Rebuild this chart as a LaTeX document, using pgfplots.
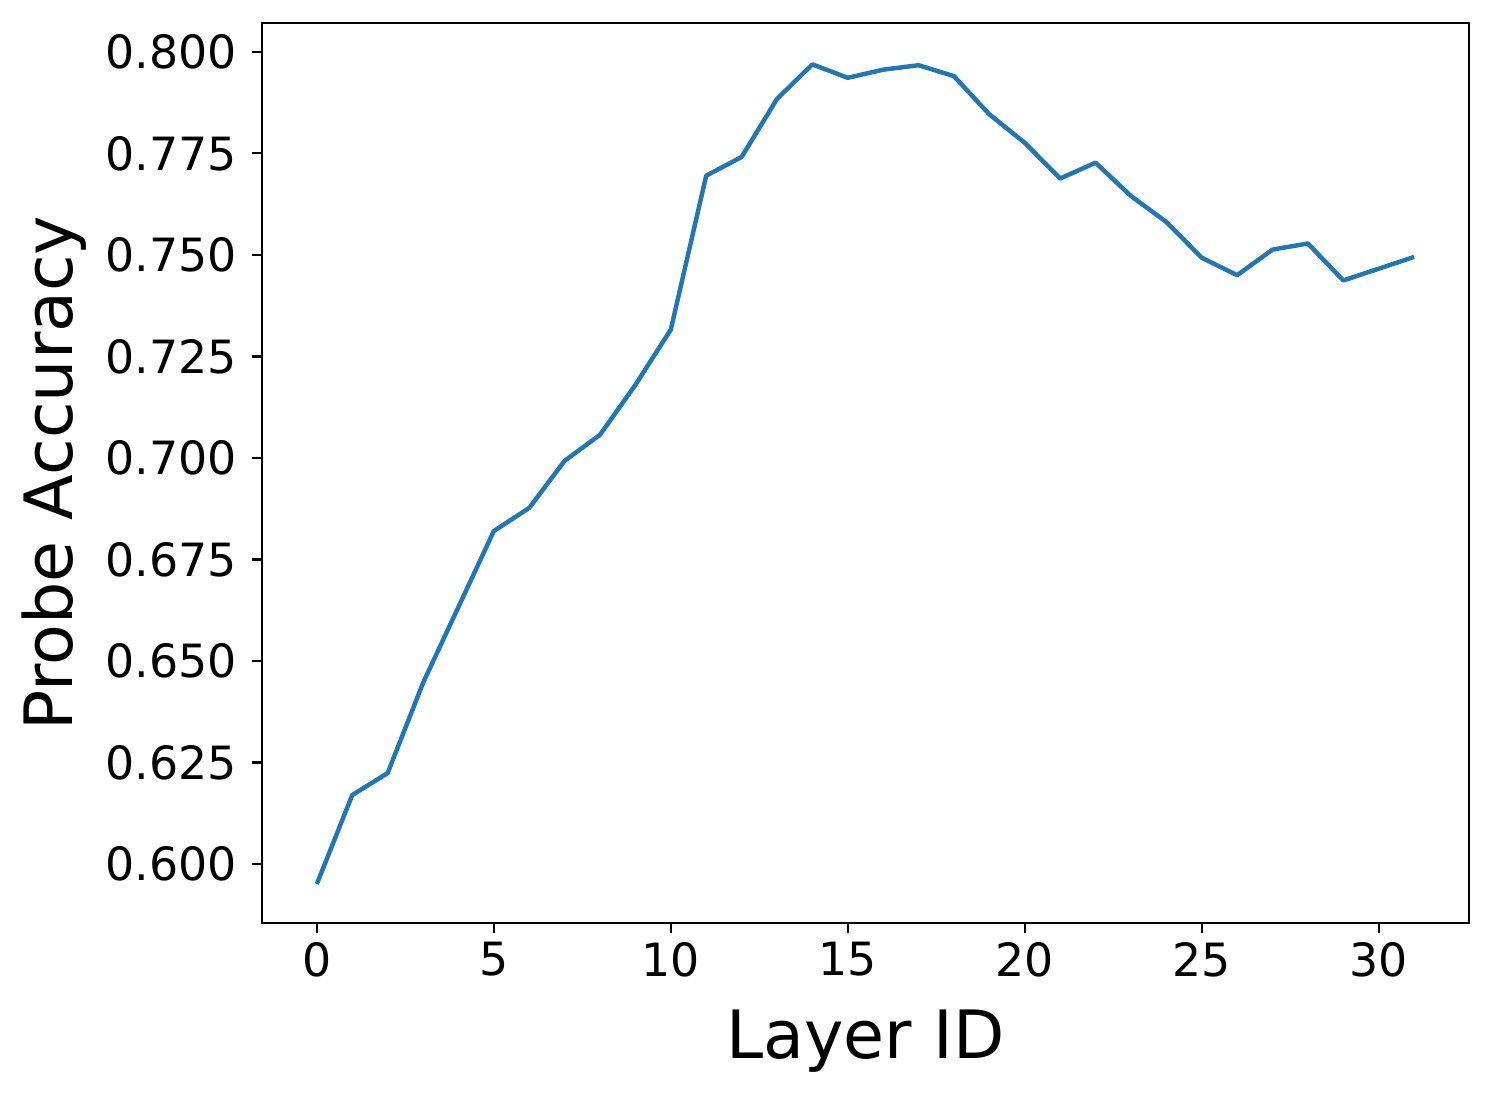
\documentclass[border=0pt]{standalone}
\usepackage{fontspec}
\setmainfont{DejaVu Sans}
\usepackage{pgfplots}
\pgfplotsset{compat=1.18}
\definecolor{mplblue}{HTML}{1F77B4}
\begin{document}
\begin{tikzpicture}
\path[use as bounding box] (-94.32pt,-62.64pt) rectangle (443.52pt,332.28pt);
\begin{axis}[
  at={(0,0)}, anchor=south west,
  scale only axis,
  width=434.5pt, height=324pt,
  xmin=-1.55, xmax=32.55,
  ymin=0.5855, ymax=0.8071,
  xtick={0,5,10,15,20,25,30},
  ytick={0.600,0.625,0.650,0.675,0.700,0.725,0.750,0.775,0.800},
  /pgf/number format/assume math mode=true,
  yticklabel style={/pgf/number format/fixed,/pgf/number format/zerofill,/pgf/number format/precision=3, xshift=-2pt},
  scaled y ticks=false,
  tick label style={font=\fontsize{16.5}{19}\selectfont},
  label style={font=\fontsize{24}{28}\selectfont},
  xlabel={Layer ID},
  xlabel style={yshift=-5pt},
  ylabel={Probe Accuracy},
  tick align=outside,
  major tick length=3.5pt,
  xtick pos=bottom, ytick pos=left,
  axis line style={line width=0.8pt},
  every tick/.style={black, line width=0.8pt},
]
\addplot[mplblue, line width=1.6pt, line join=round] coordinates {
(0,0.5951) (1,0.6170) (2,0.6224) (3,0.6446) (4,0.6633) (5,0.6820)
(6,0.6877) (7,0.6993) (8,0.7057) (9,0.7180) (10,0.7316) (11,0.7695)
(12,0.7741) (13,0.7884) (14,0.7969) (15,0.7936) (16,0.7956) (17,0.7967)
(18,0.7940) (19,0.7846) (20,0.7776) (21,0.7688) (22,0.7727) (23,0.7645)
(24,0.7581) (25,0.7493) (26,0.7450) (27,0.7513) (28,0.7528) (29,0.7437)
(30,0.7466) (31,0.7495)
};
\end{axis}
\end{tikzpicture}
\end{document}
